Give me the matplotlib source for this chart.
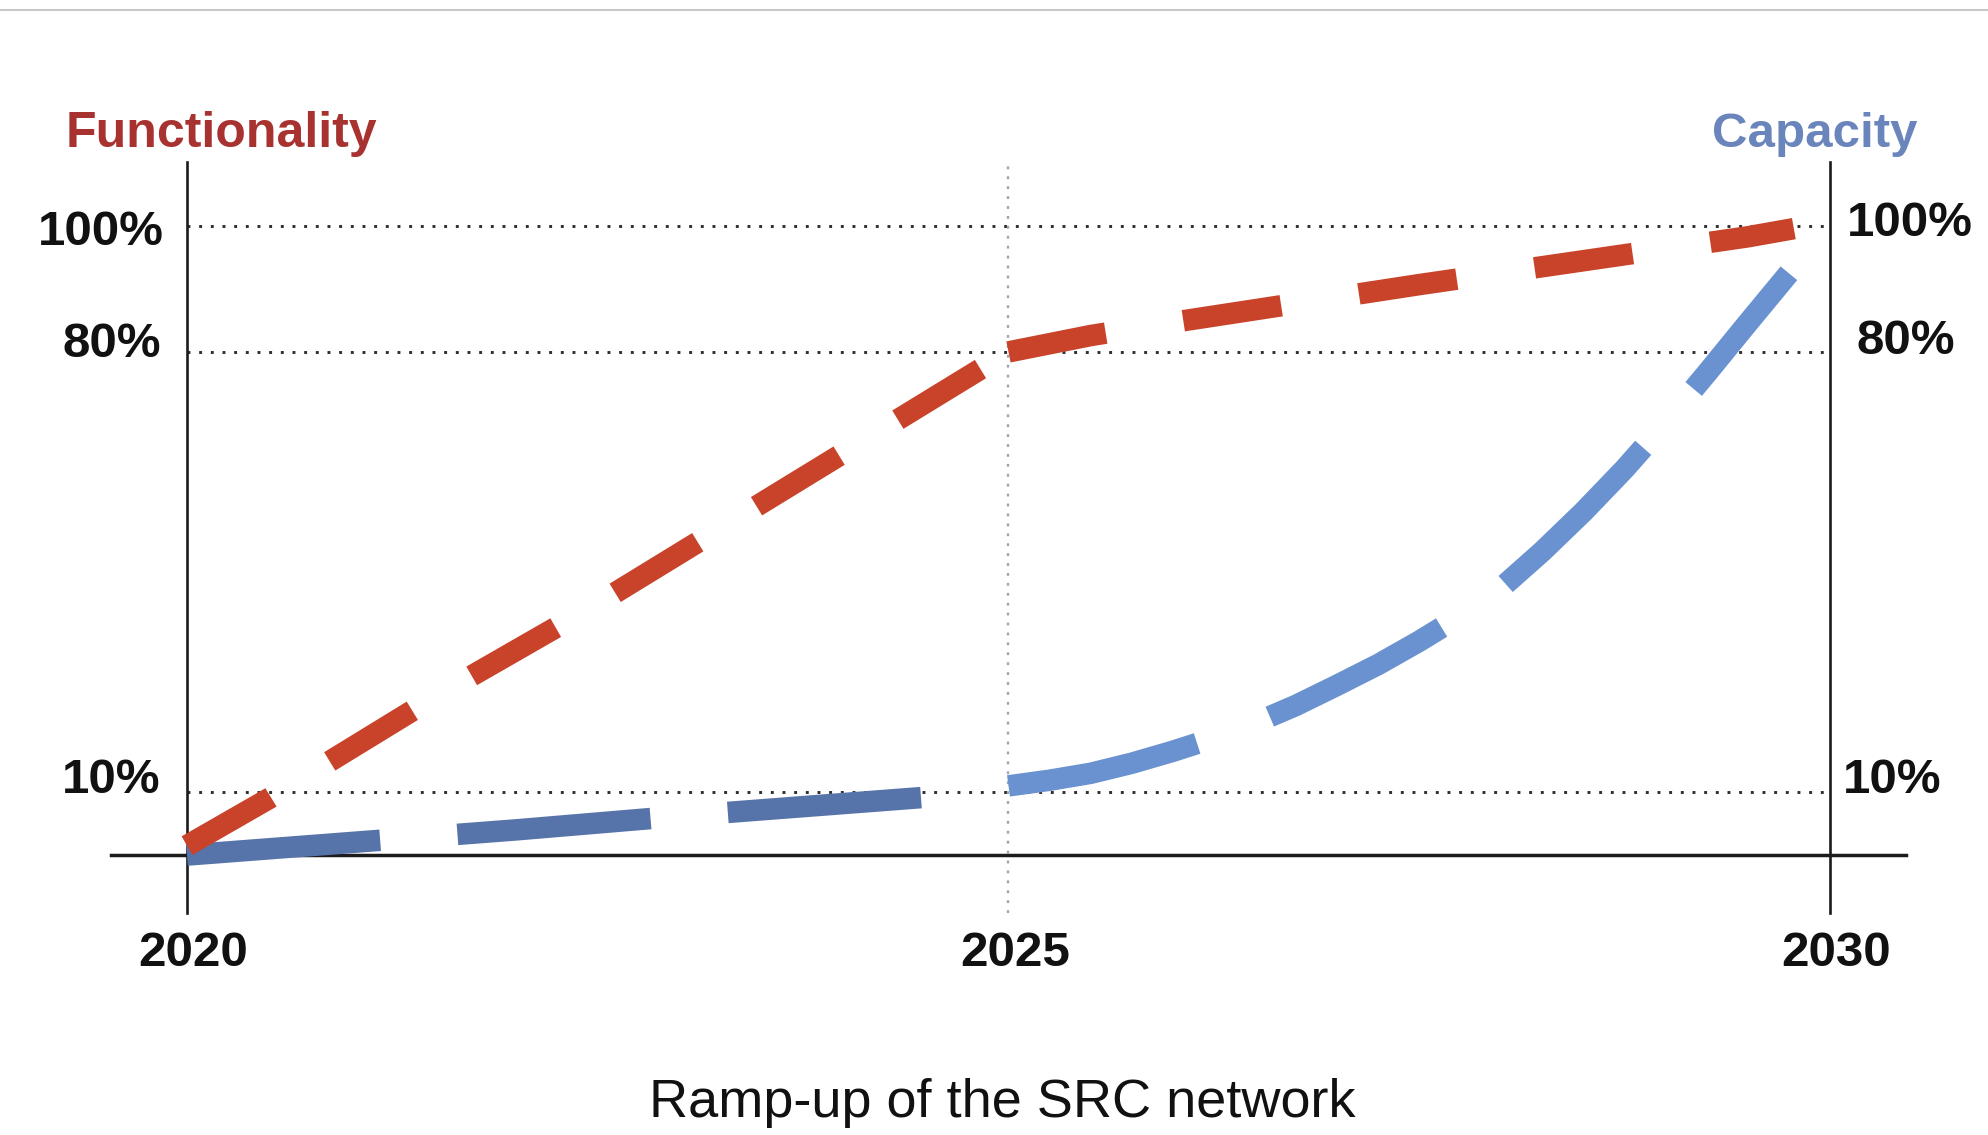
import matplotlib
matplotlib.use("Agg")
import matplotlib.pyplot as plt
from matplotlib.lines import Line2D

# ---- data ----
func_x1 = [2020, 2020.5, 2021, 2021.5, 2022, 2022.5, 2023, 2023.5, 2024, 2024.5, 2025]
func_y1 = [1.5, 9, 17, 25, 32.5, 40, 48, 56, 64, 72, 80]
func_x2 = [2025, 2025.5, 2026, 2026.5, 2027, 2027.5, 2028, 2028.5, 2029, 2029.5, 2029.78]
func_y2 = [80, 82.6, 84.7, 86.7, 88.7, 90.7, 92.6, 94.5, 96.4, 98.3, 99.6]

cap_x1 = [2020, 2021, 2022, 2023, 2024, 2024.55]
cap_y1 = [0, 2, 4, 6.2, 8.2, 9.3]
cap_x2 = [2025, 2025.25, 2025.5, 2025.75, 2026, 2026.25, 2026.5, 2026.75, 2027,
          2027.25, 2027.5, 2027.75, 2028, 2028.25, 2028.5, 2028.75, 2029, 2029.25,
          2029.5, 2029.75]
cap_y2 = [11, 11.9, 13, 14.6, 16.5, 18.6, 21, 23.8, 27,
          30.3, 34, 38, 42.5, 48.3, 54.6, 61.4, 68.8, 76.6,
          84.6, 92.5]

year_ticks = [2020, 2025, 2030]
year_labels = ["2020", "2025", "2030"]
pct_levels = [10, 80, 100]
pct_labels = ["10%", "80%", "100%"]
title = "Ramp-up of the SRC network"
left_title = "Functionality"
right_title = "Capacity"

# ---- figure ----
W, H, DPI = 1988, 1135, 100
fig = plt.figure(figsize=(W / DPI, H / DPI), dpi=DPI)
plt.rcParams['font.family'] = ['Liberation Sans', 'DejaVu Sans']

ax = fig.add_axes([0.04447, 0.1635, 0.9339, 0.7204])
ax.set_xlim(2019.4, 2030.7)
ax.set_ylim(-15, 115)
ax.axis('off')

# dotted reference lines
for lv in pct_levels:
    ax.plot([year_ticks[0], year_ticks[-1]], [lv, lv], color='#2e2e2e', lw=2.1,
            linestyle=(0, (1, 3.0)), dash_capstyle='butt', zorder=1)
ax.plot([year_ticks[1], year_ticks[1]], [-9.2, 110.2], color='#9aa6bb', lw=1.7,
        linestyle=(0, (1.2, 3.0)), zorder=1)

# axis lines
ax.plot([2019.54, 2030.46], [0, 0], color='#1c1c1c', lw=2.5, zorder=2)
for yx in (year_ticks[0], year_ticks[-1]):
    ax.plot([yx, yx], [-9.2, 110.2], color='#1c1c1c', lw=1.9, zorder=2)

LW = 15.5
red = '#c9432a'
blue1 = '#5673aa'
blue2 = '#6a92d0'
ax.plot(func_x1, func_y1, color=red, lw=LW, linestyle=(0, (4.5, 3.2)),
        dash_capstyle='butt', zorder=4)
ax.plot(func_x2, func_y2, color=red, lw=LW, linestyle=(0, (4.6, 3.65)),
        dash_capstyle='butt', zorder=4)
ax.plot(cap_x1, cap_y1, color=blue1, lw=LW, linestyle=(0, (9.0, 3.6)),
        dash_capstyle='butt', zorder=3)
ax.plot(cap_x2, cap_y2, color=blue2, lw=LW, linestyle=(0, (9.0, 3.6)),
        dash_capstyle='butt', zorder=3)

# labels
fs = 35.5
left_pos = {100: 99.0, 80: 81.1, 10: 11.9}
right_pos = {100: 100.4, 80: 81.6, 10: 11.9}
right_x = {100: 2030.1, 80: 2030.16, 10: 2030.08}
left_x = {100: 2019.86, 80: 2019.84, 10: 2019.84}
for lv, lab in zip(pct_levels, pct_labels):
    ax.text(left_x[lv], left_pos[lv], lab, ha='right', va='center', fontsize=fs,
            fontweight='bold', color='#111111')
    ax.text(right_x[lv], right_pos[lv], lab, ha='left', va='center', fontsize=fs,
            fontweight='bold', color='#111111')
for xv, lab in zip(year_ticks, year_labels):
    ax.text(xv + 0.04, -15.6, lab, ha='center', va='center', fontsize=fs,
            fontweight='bold', color='#111111', clip_on=False)

ax.text(2019.264, 114.6, left_title, ha='left', va='center', fontsize=fs + 0.5,
        fontweight='bold', color='#a8322f', clip_on=False)
ax.text(2030.53, 114.6, right_title, ha='right', va='center', fontsize=fs,
        fontweight='bold', color='#6a85bb', clip_on=False)

fig.text(0.504, 0.028, title, ha='center', va='center', fontsize=39, color='#111111')

# thin gray line at top
fig.add_artist(Line2D([0, 1], [0.991, 0.991], transform=fig.transFigure,
                      color='#c8c8c8', lw=1.5))

fig.savefig('out.png', dpi=DPI)
